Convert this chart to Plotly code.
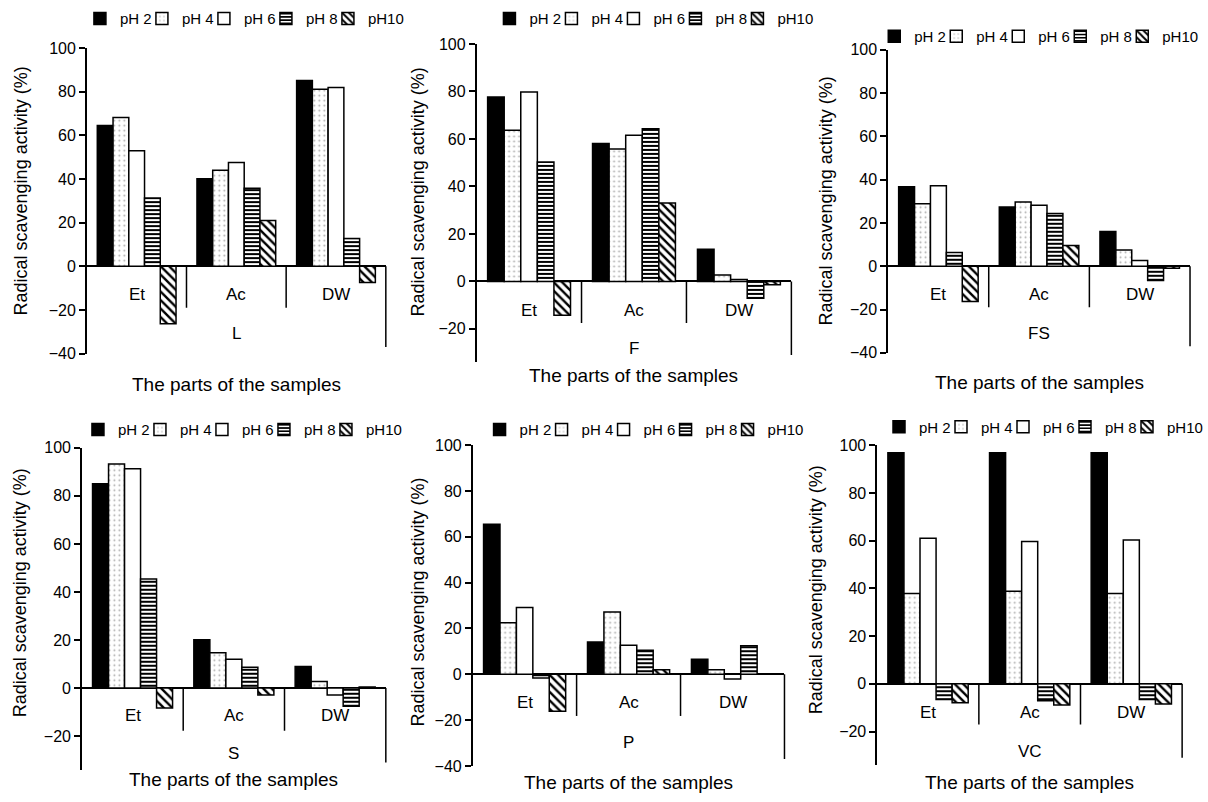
import plotly.graph_objects as go

# ---------------- data ----------------
categories = ["Et", "Ac", "DW"]
series_names = ["pH 2", "pH 4", "pH 6", "pH 8", "pH10"]
sample_names = ["L", "F", "FS", "S", "P", "VC"]

# each list: one row per pH series, values for Et, Ac, DW
L_vals = [[64.5, 40.1, 85.2], [68.2, 44.0, 81.2], [53.0, 47.6, 82.0], [31.3, 35.8, 12.7], [-26.3, 21.0, -7.5]]
F_vals = [[77.6, 58.1, 13.5], [63.6, 55.8, 2.7], [79.8, 61.5, 0.8], [50.3, 64.3, -7.1], [-14.3, 33.0, -1.4]]
FS_vals = [[36.7, 27.4, 16.0], [28.9, 29.7, 7.5], [37.2, 28.2, 2.7], [6.3, 24.4, -6.6], [-16.3, 9.6, -0.9]]
S_vals = [[85.0, 20.1, 9.0], [93.2, 14.7, 2.7], [91.3, 12.0, -2.9], [45.4, 8.7, -7.6], [-8.3, -2.9, 0.5]]
P_vals = [[65.5, 14.1, 6.6], [22.5, 27.2, 2.0], [29.1, 12.7, -2.1], [-1.6, 10.5, 12.4], [-16.1, 2.0, 0.0]]
VC_vals = [[96.8, 96.8, 96.8], [37.9, 38.8, 37.9], [61.0, 59.6, 60.3], [-6.6, -7.1, -6.6], [-7.9, -8.9, -8.5]]
panel_values = [L_vals, F_vals, FS_vals, S_vals, P_vals, VC_vals]

y_ranges = [[-40, 100], [-34, 100], [-40, 100], [-34, 100], [-40, 100], [-34, 100]]
y_ticks = [[-40, -20, 0, 20, 40, 60, 80, 100], [-20, 0, 20, 40, 60, 80, 100],
           [-40, -20, 0, 20, 40, 60, 80, 100], [-20, 0, 20, 40, 60, 80, 100],
           [-40, -20, 0, 20, 40, 60, 80, 100], [-20, 0, 20, 40, 60, 80, 100]]
y_title = "Radical scavenging activity (%)"
x_title = "The parts of the samples"

# ---------------- styles / layout ----------------
W, H = 1208, 802
FONT = "Liberation Sans, Arial, sans-serif"
# plot boxes in pixels: x0, x1, ytop, ybottom
boxes = [(88, 391, 41, 353), (483, 802, 36.7, 361.8), (900, 1206, 42.7, 352.3),
         (83, 391, 449.3, 778.3), (479, 795, 446.7, 774.3), (889, 1198, 446.7, 773.3)]
cat_label_y = [293, 309, 293, 723, 710, 720]
sub_label_y = [333, 348, 333, 762, 750, 760]
x_title_y = [385, 375, 383, 788, 791, 791]
y_title_xy = [(21.7, 187), (424, 188), (836.7, 197), (20.3, 598), (424, 607), (827.8, 594)]
legend_xy = [(95, 11), (510, 11), (900, 29), (93, 431), (500, 431), (905, 428)]
sep_depth = [-19, -17.5, -19, -17.7, -18.2, -17.1]
legend_entry_w = [17, 17, 17, 17, 36]

white = "white"
marker_styles = [
    dict(color="black", line=dict(color="black", width=1.5)),
    dict(color=white, line=dict(color="black", width=1.5),
         pattern=dict(shape=".", fgcolor="#b0b0b0", bgcolor=white, size=5, solidity=0.12, fillmode="replace")),
    dict(color=white, line=dict(color="black", width=1.5)),
    dict(color=white, line=dict(color="black", width=1.5),
         pattern=dict(shape="-", fgcolor="black", bgcolor=white, size=4, solidity=0.5, fillmode="replace")),
    dict(color=white, line=dict(color="black", width=1.5),
         pattern=dict(shape="\\", fgcolor="black", bgcolor=white, size=6, solidity=0.4, fillmode="replace")),
]

fig = go.Figure()
layout = dict(width=W, height=H, margin=dict(l=0, r=0, t=0, b=0, pad=0),
              paper_bgcolor="white", plot_bgcolor="white",
              barmode="group", bargap=0.21, bargroupgap=0,
              font=dict(family=FONT, color="black", size=16))
annotations = []
shapes = []

def px_x(v):
    return v / W

def px_y(v):
    return 1 - v / H

for i, vals in enumerate(panel_values):
    k = i + 1
    xa = "x" if k == 1 else f"x{k}"
    ya = "y" if k == 1 else f"y{k}"
    xkey = "xaxis" if k == 1 else f"xaxis{k}"
    ykey = "yaxis" if k == 1 else f"yaxis{k}"
    lkey = "legend" if k == 1 else f"legend{k}"
    x0, x1, yt, yb = boxes[i]
    for s, name in enumerate(series_names):
        fig.add_trace(go.Bar(x=categories, y=vals[s], name=name, xaxis=xa, yaxis=ya,
                             marker=marker_styles[s], legend=lkey, showlegend=True,
                             legendwidth=legend_entry_w[s], hoverinfo="x+y+name"))
    layout[xkey] = dict(domain=[px_x(x0), px_x(x1)], anchor=ya, range=[-0.5, 2.5],
                        type="category", showticklabels=False, showline=False,
                        showgrid=False, zeroline=False, ticks="")
    layout[ykey] = dict(domain=[px_y(yb), px_y(yt)], anchor=xa, range=y_ranges[i],
                        tickvals=y_ticks[i], showline=True, linecolor="black", linewidth=1.5,
                        ticks="outside", ticklen=6, tickwidth=1.5, tickcolor="black",
                        showgrid=False, zeroline=True, zerolinecolor="black", zerolinewidth=1.5,
                        tickfont=dict(family=FONT, size=16, color="black"))
    lx, ly = legend_xy[i]
    layout[lkey] = dict(orientation="h", x=px_x(lx - 14), y=px_y(ly), xanchor="left", yanchor="middle",
                        bgcolor="rgba(0,0,0,0)", borderwidth=0, itemwidth=30,
                        entrywidthmode="pixels", tracegroupgap=0,
                        font=dict(family=FONT, size=15, color="black"))
    # category labels
    for c in categories:
        annotations.append(dict(x=c, y=px_y(cat_label_y[i]), xref=xa, yref="paper", text=c,
                                showarrow=False, xanchor="center", yanchor="middle",
                                font=dict(family=FONT, size=17, color="black")))
    # sample label
    annotations.append(dict(x=categories[1], y=px_y(sub_label_y[i]), xref=xa, yref="paper",
                            text=sample_names[i], showarrow=False, xanchor="center", yanchor="middle",
                            font=dict(family=FONT, size=17, color="black")))
    # x title
    annotations.append(dict(x=categories[1], y=px_y(x_title_y[i]), xref=xa, yref="paper",
                            text=x_title, showarrow=False, xanchor="center", yanchor="middle",
                            font=dict(family=FONT, size=19, color="black")))
    # y title
    tx, ty = y_title_xy[i]
    annotations.append(dict(x=px_x(tx), y=px_y(ty), xref="paper", yref="paper", text=y_title,
                            textangle=-90, showarrow=False, xanchor="center", yanchor="middle",
                            font=dict(family=FONT, size=18, color="black")))
    # category separators
    for sx in (0.5, 1.5):
        shapes.append(dict(type="line", xref=xa, yref=ya, x0=sx, x1=sx, y0=0, y1=sep_depth[i],
                           line=dict(color="black", width=1.5)))
    # right border line below zero
    shapes.append(dict(type="line", xref=f"{xa} domain", yref=ya, x0=1, x1=1, y0=0,
                       y1=y_ranges[i][0] + 3, line=dict(color="black", width=1.5)))

layout["annotations"] = annotations
layout["shapes"] = shapes
fig.update_layout(**layout)
fig.write_html("out.html", config={"displayModeBar": False},
               post_script="document.documentElement.style.margin='0';document.body.style.margin='0';document.body.style.overflow='hidden';")
